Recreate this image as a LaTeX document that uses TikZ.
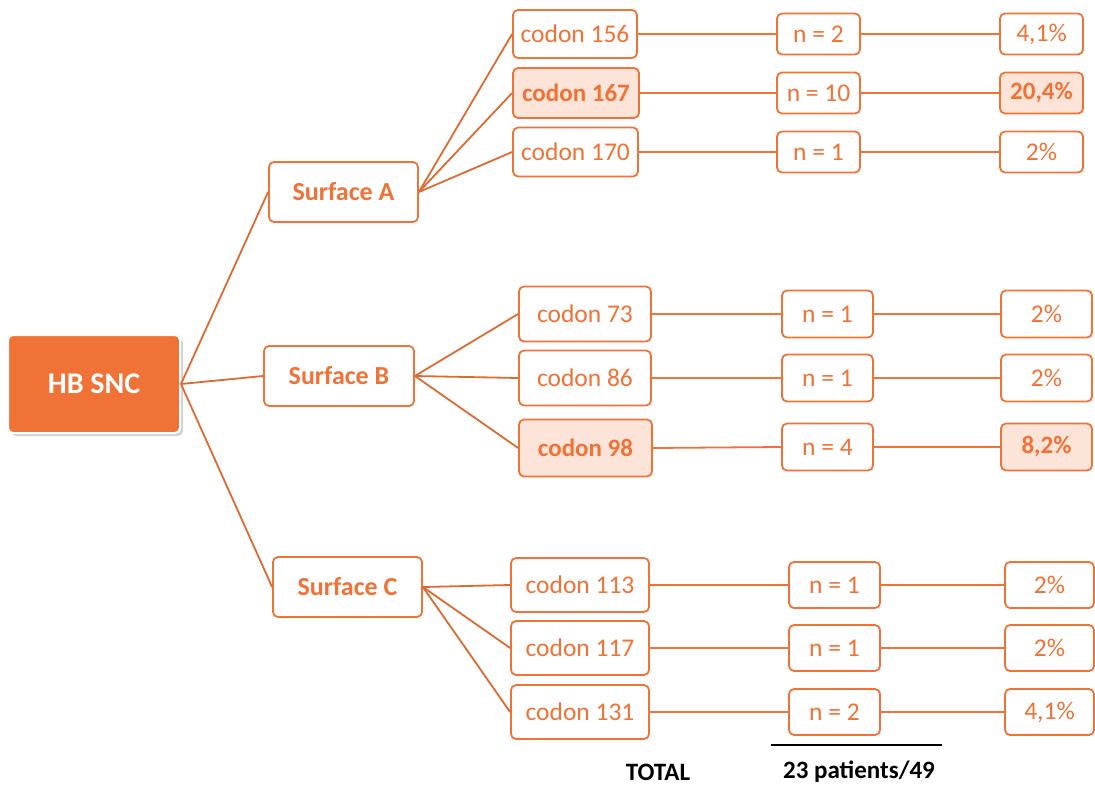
\documentclass[tikz,border=0pt]{standalone}
\usepackage{fontspec}
\setmainfont{Carlito}
\usetikzlibrary{shadows}
\definecolor{orng}{HTML}{F07236}
\definecolor{lightorng}{HTML}{FDE4D8}
\definecolor{linkc}{HTML}{DC6A32}
\begin{document}
\begin{tikzpicture}[x=1pt,y=-1pt,font=\fontsize{25.5}{28}\selectfont,
  box/.style={draw=orng,line width=1.8pt,rounded corners=5pt,text=orng,inner sep=0pt,fill=white},
  hot/.style={box,fill=lightorng,font=\fontsize{25}{28}\selectfont\bfseries},
  surf/.style={box,minimum width=149,minimum height=60,font=\fontsize{26}{29}\selectfont\bfseries},
  link/.style={linkc,line width=1.8pt}]

\useasboundingbox (0,0) rectangle (1095,787);

% root
\node[box,fill=orng,draw=white,line width=2pt,text=white,minimum width=172,minimum height=98,
  font=\fontsize{30}{33}\selectfont\bfseries,
  drop shadow={shadow xshift=3pt,shadow yshift=-3pt,opacity=0.35}] (hb) at (94,384) {HB SNC};

% surfaces
\node[surf] (sa) at (343.5,192) {Surface A};
\node[surf,minimum width=150] (sb) at (339,376) {Surface B};
\node[surf] (sc) at (347.5,587) {Surface C};

% codons
\begin{scope}[every node/.style={box}]
\node[minimum width=124,minimum height=48] (c156) at (575,34) {codon 156};
\node[hot,minimum width=126,minimum height=50] (c167) at (576,93) {codon 167};
\node[minimum width=125,minimum height=49] (c170) at (575.5,152) {codon 170};
\node[minimum width=132,minimum height=55] (c73) at (585,314) {codon 73};
\node[minimum width=132,minimum height=55] (c86) at (585,378) {codon 86};
\node[hot,minimum width=133,minimum height=57] (c98) at (585.5,448) {codon 98};
\node[minimum width=138,minimum height=54] (c113) at (580,585) {codon 113};
\node[minimum width=138,minimum height=54] (c117) at (580,648) {codon 117};
\node[minimum width=138,minimum height=54] (c131) at (580,712) {codon 131};
\end{scope}

% patients
\begin{scope}[every node/.style={box}]
\node[minimum width=83,minimum height=41] (n156) at (818.5,34) {n = 2};
\node[minimum width=83,minimum height=41] (n167) at (818.5,93) {n = 10};
\node[minimum width=83,minimum height=41] (n170) at (818.5,152) {n = 1};
\node[minimum width=91,minimum height=47] (n73) at (827.5,314) {n = 1};
\node[minimum width=91,minimum height=47] (n86) at (827.5,378) {n = 1};
\node[minimum width=91,minimum height=47] (n98) at (827.5,447) {n = 4};
\node[minimum width=91,minimum height=46] (n113) at (834.5,585) {n = 1};
\node[minimum width=91,minimum height=46] (n117) at (834.5,648) {n = 1};
\node[minimum width=91,minimum height=46] (n131) at (834.5,712) {n = 2};
\end{scope}

% percentages
\begin{scope}[every node/.style={box}]
\node[minimum width=83,minimum height=41] (p156) at (1041.5,34) {4,1\%};
\node[hot,minimum width=83,minimum height=41] (p167) at (1041.5,93) {20,4\%};
\node[minimum width=83,minimum height=41] (p170) at (1041.5,152) {2\%};
\node[minimum width=91,minimum height=47] (p73) at (1046.5,314) {2\%};
\node[minimum width=91,minimum height=47] (p86) at (1046.5,378) {2\%};
\node[hot,minimum width=91,minimum height=47] (p98) at (1046.5,447) {8,2\%};
\node[minimum width=89,minimum height=46] (p113) at (1049.5,585) {2\%};
\node[minimum width=89,minimum height=46] (p117) at (1049.5,648) {2\%};
\node[minimum width=89,minimum height=46] (p131) at (1049.5,712) {4,1\%};
\end{scope}

% connectors
\begin{scope}[link]
\draw (hb.east) -- (sa.west);
\draw (hb.east) -- (sb.west);
\draw (hb.east) -- (sc.west);
\draw (sa.east) -- (c156.west);
\draw (sa.east) -- (c167.west);
\draw (sa.east) -- (c170.west);
\draw (sb.east) -- (c73.west);
\draw (sb.east) -- (c86.west);
\draw (sb.east) -- (c98.west);
\draw (sc.east) -- (c113.west);
\draw (sc.east) -- (c117.west);
\draw (sc.east) -- (c131.west);
\foreach \c in {156,167,170,73,86,98,113,117,131}{
  \draw[orng] (c\c.east) -- (n\c.west);
  \draw[orng] (n\c.east) -- (p\c.west);
}
\end{scope}

% total
\coordinate (ra) at (771,745);
\coordinate (rb) at (942,745);
\draw[line width=1.5pt] (ra) -- (rb);
\node[font=\fontsize{25}{28}\selectfont\bfseries] (tot) at (658,772) {TOTAL};
\node[font=\fontsize{25}{28}\selectfont\bfseries] (pat) at (859,772) {23 patients/49};
\end{tikzpicture}
\end{document}
